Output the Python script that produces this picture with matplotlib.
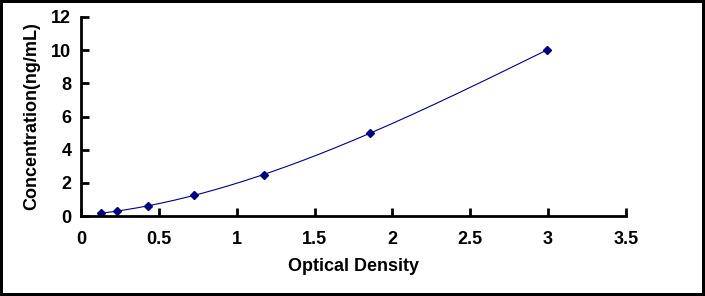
import numpy as np
import matplotlib.pyplot as plt

# standard curve data
od = [0.128, 0.23, 0.43, 0.726, 1.175, 1.856, 2.99]
conc = [0.156, 0.312, 0.625, 1.25, 2.5, 5, 10]
x_ticks = [0, 0.5, 1, 1.5, 2, 2.5, 3, 3.5]
x_tick_labels = ['0', '0.5', '1', '1.5', '2', '2.5', '3', '3.5']
y_ticks = [0, 2, 4, 6, 8, 10, 12]

plt.rcParams['font.family'] = ['Liberation Sans', 'DejaVu Sans']
plt.rcParams['font.weight'] = 'bold'

fig = plt.figure(figsize=(7.05, 2.96), dpi=100)
fig.patch.set_edgecolor('black')
fig.patch.set_linewidth(4)
ax = fig.add_axes([0.1149, 0.270, 0.773, 0.6726])

# fitted curve (cubic fit through the standards)
coef = np.polyfit(od, conc, 3)
xs = np.linspace(min(od), max(od), 300)
ax.plot(xs, np.polyval(coef, xs), color='#000080', linewidth=0.8)
ax.plot(od, conc, linestyle='none', marker='D', markersize=4.5, color='#000080')

ax.set_xlim(0, 3.5)
ax.set_ylim(0, 12)
ax.set_xticks(x_ticks)
ax.set_xticklabels(x_tick_labels)
ax.set_yticks(y_ticks)
for s in ['top', 'right']:
    ax.spines[s].set_visible(False)
for s in ['left', 'bottom']:
    ax.spines[s].set_linewidth(2)
ax.tick_params(axis='both', direction='in', length=6, width=2, labelsize=13)
ax.tick_params(axis='x', pad=11)
ax.tick_params(axis='y', pad=7)
ax.set_xlabel('Optical Density', fontsize=13, fontweight='bold', labelpad=7)
ax.set_ylabel('Concentration(ng/mL)', fontsize=13, fontweight='bold', labelpad=8)

fig.savefig('out.png', dpi=100, edgecolor=fig.get_edgecolor())
